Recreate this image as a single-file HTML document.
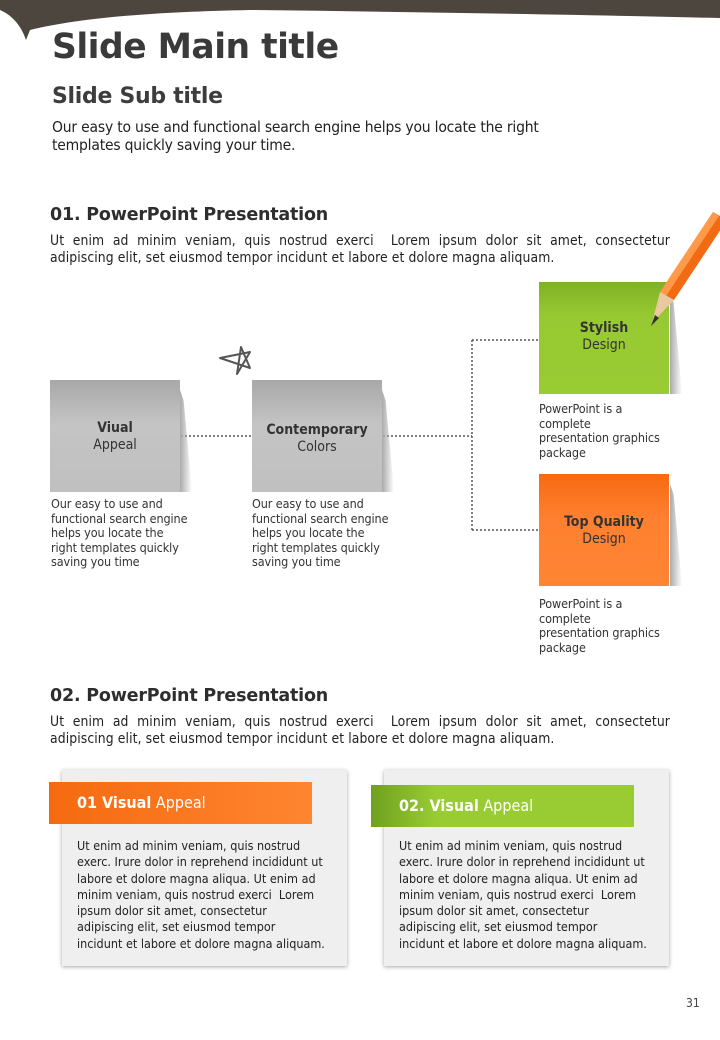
<!DOCTYPE html>
<html><head><meta charset="utf-8"><style>
*{margin:0;padding:0;box-sizing:border-box}
body{width:720px;height:1040px;background:#fff;position:relative;overflow:hidden;font-family:"DejaVu Sans Condensed","Liberation Sans Narrow","Liberation Sans",sans-serif;color:#333}
.a{position:absolute}
h1{position:absolute;left:52px;top:27px;font-size:34.5px;font-weight:bold;color:#3a3a3a;letter-spacing:-0.5px;font-family:"DejaVu Sans","Liberation Sans",sans-serif}
.sub{left:52px;top:84px;font-size:22px;font-weight:bold;color:#3d3d3d;font-family:"DejaVu Sans","Liberation Sans",sans-serif;letter-spacing:-0.3px}
.lead{left:52px;top:118px;font-size:15.5px;line-height:18px;color:#222;width:540px;letter-spacing:-0.2px}
.h2{left:50px;font-size:17.5px;font-weight:bold;color:#2e2e2e;font-family:"DejaVu Sans","Liberation Sans",sans-serif;letter-spacing:-0.2px}
.p{left:50px;width:620px;font-size:13.8px;line-height:17px;text-align:justify;text-align-last:left;color:#222;letter-spacing:0.1px}
.gb{width:130px;height:112px;background:linear-gradient(#a8a8a8,#c4c4c4 40%,#c0c0c0);text-align:center;font-size:14px;color:#333;line-height:17px;padding-top:40px}
.sh{width:12px;background:linear-gradient(90deg,#aaa,rgba(255,255,255,0));clip-path:polygon(0 0,30% 10%,100% 100%,0 100%)}
.cap{font-size:12.5px;line-height:14.6px;color:#333;letter-spacing:-0.1px;white-space:nowrap}
.card{width:285px;height:196px;background:#efefef;box-shadow:0 1px 4px rgba(0,0,0,.35)}
.ban{height:42px;color:#fff;font-size:16px;line-height:42px;padding-left:28px}
.ct{font-size:12.5px;line-height:16.3px;color:#222;white-space:nowrap}
</style></head><body>
<svg class="a" style="left:0;top:0" width="720" height="45">
<path d="M0 0H720V18C600 15 420 12 250 10C150 12 80 18 30 30L26 40C22 28 14 16 0 10Z" fill="#4d463f"/>
</svg>
<h1>Slide Main title</h1>
<div class="a sub">Slide Sub title</div>
<div class="a lead">Our easy to use and functional search engine helps you locate the right templates quickly saving your time.</div>

<div class="a h2" style="top:205px">01. PowerPoint Presentation</div>
<div class="a p" style="top:233px">Ut enim ad minim veniam, quis nostrud exerci&nbsp; Lorem ipsum dolor sit amet, consectetur adipiscing elit, set eiusmod tempor incidunt et labore et dolore magna aliquam.</div>

<svg class="a" style="left:0;top:0" width="720" height="1040">
<g stroke="#555" stroke-width="1.5" stroke-dasharray="2 2" fill="none">
<path d="M181 436H252M383 436H472M472 340V530M472 340H539M472 530H539"/>
</g>
<path d="M237 374L241 347L250 368L220 358L250 352Z" fill="none" stroke="#555" stroke-width="2" stroke-linejoin="round"/>
</svg>

<div class="a sh" style="left:180px;top:390px;height:102px"></div>
<div class="a gb" style="left:50px;top:380px"><b>Viual</b><br>Appeal</div>
<div class="a sh" style="left:382px;top:390px;height:102px"></div>
<div class="a gb" style="left:252px;top:380px;padding-top:42px"><b>Contemporary</b><br>Colors</div>
<div class="a cap" style="left:51px;top:497px">Our easy to use and<br>functional search engine<br>helps you locate the<br>right templates quickly<br>saving you time</div>
<div class="a cap" style="left:252px;top:497px">Our easy to use and<br>functional search engine<br>helps you locate the<br>right templates quickly<br>saving you time</div>

<div class="a sh" style="left:670px;top:292px;height:102px"></div>
<div class="a gb" style="left:539px;top:282px;background:linear-gradient(#7fb126,#97c932 30%,#99cc33);padding-top:38px"><b>Stylish</b><br>Design</div>
<div class="a cap" style="left:539px;top:402px">PowerPoint is a<br>complete<br>presentation graphics<br>package</div>
<div class="a sh" style="left:670px;top:484px;height:102px"></div>
<div class="a gb" style="left:539px;top:474px;background:linear-gradient(#f76a12,#ff8030 40%,#ff8533);padding-top:40px"><b>Top Quality</b><br>Design</div>
<div class="a cap" style="left:539px;top:597px">PowerPoint is a<br>complete<br>presentation graphics<br>package</div>

<svg class="a" style="left:0;top:0" width="720" height="400">
<polygon points="713,212 727,220 674,300 660,292" fill="#f26a12"/>
<polygon points="713,212 719,216 666,296 660,292" fill="#ff9a4a"/>
<polygon points="660,292 674,300 652,323" fill="#e8c9a0"/>
<polygon points="655,315 659,318 651,326" fill="#333"/>
</svg>

<div class="a h2" style="top:686px">02. PowerPoint Presentation</div>
<div class="a p" style="top:714px">Ut enim ad minim veniam, quis nostrud exerci&nbsp; Lorem ipsum dolor sit amet, consectetur adipiscing elit, set eiusmod tempor incidunt et labore et dolore magna aliquam.</div>

<div class="a card" style="left:62px;top:770px"></div>
<div class="a ban" style="left:49px;top:782px;width:263px;background:linear-gradient(90deg,#f56a10,#ff8530)"><b>01 Visual</b> Appeal</div>
<div class="a ct" style="left:77px;top:838px">Ut enim ad minim veniam, quis nostrud<br>exerc. Irure dolor in reprehend incididunt ut<br>labore et dolore magna aliqua. Ut enim ad<br>minim veniam, quis nostrud exerci&nbsp; Lorem<br>ipsum dolor sit amet, consectetur<br>adipiscing elit, set eiusmod tempor<br>incidunt et labore et dolore magna aliquam.</div>

<div class="a card" style="left:384px;top:770px"></div>
<div class="a ban" style="left:371px;top:785px;width:263px;background:linear-gradient(90deg,#6fa020,#99cc33 25%,#9c3)"><b>02. Visual</b> Appeal</div>
<div class="a ct" style="left:399px;top:838px">Ut enim ad minim veniam, quis nostrud<br>exerc. Irure dolor in reprehend incididunt ut<br>labore et dolore magna aliqua. Ut enim ad<br>minim veniam, quis nostrud exerci&nbsp; Lorem<br>ipsum dolor sit amet, consectetur<br>adipiscing elit, set eiusmod tempor<br>incidunt et labore et dolore magna aliquam.</div>

<div class="a" style="left:686px;top:996px;font-size:12px;color:#444">31</div>
</body></html>
